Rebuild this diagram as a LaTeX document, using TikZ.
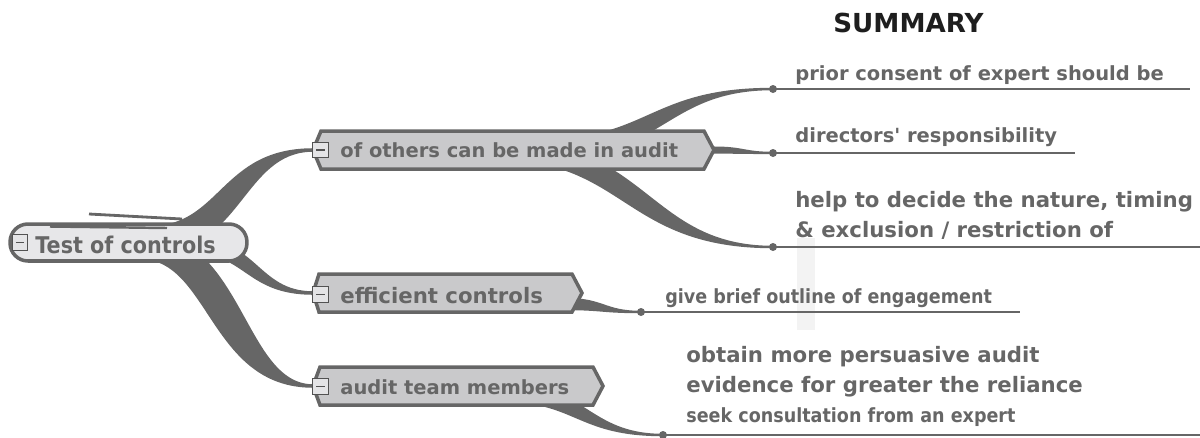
\documentclass[tikz,border=0pt]{standalone}
\usepackage{fontspec}
\setmainfont{DejaVu Sans}
\newfontfamily\narrowfont[FakeStretch=0.9]{DejaVu Sans}
\usetikzlibrary{calc,backgrounds}

\definecolor{ink}{HTML}{666666}
\definecolor{titleink}{HTML}{1E1E1E}
\definecolor{twigfill}{HTML}{C9C9CB}
\definecolor{rootfill}{HTML}{E7E7E9}
\definecolor{foldfill}{HTML}{E4E4E6}
\definecolor{haze}{HTML}{F3F3F3}

\tikzset{
  leaf/.style={text=ink, inner sep=0pt, anchor=base west, font=\bfseries\fontsize{11.1}{13}\selectfont},
  bigleaf/.style={leaf, font=\bfseries\fontsize{12.1}{14}\selectfont},
  thinleaf/.style={leaf, font=\narrowfont\bfseries\fontsize{11.1}{13}\selectfont},
  twig/.style={draw=ink, line width=2pt, fill=twigfill, line join=miter},
  fold/.style={draw=ink!80!black, fill=foldfill, line width=0.6pt, minimum size=0.31cm, inner sep=0pt},
  leafline/.style={draw=ink, line width=1.1pt},
  knot/.style={fill=ink},
  limbfill/.style={fill=ink}
}

% tapered branch: from, to, half width at start, half width at end
\newcommand{\limb}[4]{%
  \fill[limbfill] let \p1=(#1), \p2=(#2), \n1={0.12*(\y2-\y1)} in
    (\x1,\y1+#3) .. controls ({0.5*\x1+0.5*\x2-\n1},\y1+#3) and ({0.5*\x1+0.5*\x2-\n1},\y2+#4) .. (\x2,\y2+#4)
    -- (\x2,\y2-#4) .. controls ({0.5*\x1+0.5*\x2+\n1},\y2-#4) and ({0.5*\x1+0.5*\x2+\n1},\y1-#3) .. (\x1,\y1-#3) -- cycle;}
\newcommand{\foldmark}{\textcolor{ink!80!black}{\rule{0.17cm}{0.035cm}}}

\begin{document}
\begin{tikzpicture}[x=0.02cm, y=-0.02cm]
\useasboundingbox (0,0) rectangle (1200,437);
\fill[haze] (797,238) rectangle (815,330);

% title
\node[anchor=base west, inner sep=0pt, text=titleink, font=\bfseries\fontsize{14.9}{17}\selectfont] (title) at (833,32) {SUMMARY};

% points where branches meet
\coordinate (rootup) at (150,240);
\coordinate (rootmid) at (190,245);
\coordinate (rootlow) at (140,245);
\coordinate (t1w) at (313,150);
\coordinate (t1e) at (714,150);
\coordinate (t1a) at (540,150);
\coordinate (t1b) at (500,150);
\coordinate (t2w) at (313,293);
\coordinate (t2e) at (565,304);
\coordinate (t3w) at (313,386);
\coordinate (t3e) at (500,392);
\coordinate (d1) at (773,89);
\coordinate (d2) at (773,153);
\coordinate (d3) at (773,247);
\coordinate (d4) at (641,312);
\coordinate (d5) at (663,435);
\coordinate (e1) at (1190,89);
\coordinate (e2) at (1075,153);
\coordinate (e3) at (1200,247);
\coordinate (e4) at (1020,312);
\coordinate (e5) at (1200,435);

% root
\node[draw=ink, line width=2pt, fill=rootfill, rounded corners=0.36cm, minimum width=4.74cm, minimum height=0.74cm] (root) at (128.5,242.5) {};
\draw[ink, line width=1.6pt] (89,214) -- (182,219);
\draw[ink, line width=1.4pt] (50,226.5) -- (167,228);
\node[fold] (f0) at (20,242.5) {\foldmark};
\node[leaf, font=\narrowfont\bfseries\fontsize{13.1}{15}\selectfont] (rootlbl) at (35,253) {Test of controls};

% main topics
\draw[twig] (t1w) -- (321,131) -- (704,131) -- (t1e) -- (704,169) -- (321,169) -- cycle;
\node[fold] (f1) at (320.5,150) {\foldmark};
\node[leaf] (t1) at (340,157) {of others can be made in audit};

\draw[twig] (t2w) -- (319,274) -- (572,274) -- (582,293) -- (572,312) -- (319,312) -- cycle;
\node[fold] (f2) at (320.5,294.5) {\foldmark};
\node[bigleaf] (t2) at (340,303) {efficient controls};

\draw[twig] (t3w) -- (320,367) -- (593,367) -- (603,386) -- (593,405) -- (320,405) -- cycle;
\node[fold] (f3) at (320.5,386.5) {\foldmark};
\node[leaf] (t3) at (340,394) {audit team members};

% branches
\begin{scope}[on background layer]
\limb{rootup}{t1w}{8pt}{1pt}
\limb{rootmid}{t2w}{4.5pt}{1pt}
\limb{rootlow}{t3w}{8pt}{1pt}
\limb{t1a}{d1}{6pt}{0.7pt}
\limb{t1e}{d2}{2pt}{0.7pt}
\limb{t1b}{d3}{6pt}{0.7pt}
\limb{t2e}{d4}{3.5pt}{0.7pt}
\limb{t3e}{d5}{5.5pt}{0.7pt}
\end{scope}

% leaves
\foreach \d/\e in {d1/e1, d2/e2, d3/e3, d4/e4, d5/e5} {
  \draw[leafline] (\d) -- (\e);
  \fill[knot] (\d) circle (0.08cm);
}
\node[leaf] (l1) at (795,80) {prior consent of expert should be};
\node[leaf] (l2) at (795,142) {directors\textquotesingle\ responsibility};
\node[bigleaf] (l3a) at (795,207) {help to decide the nature, timing};
\node[bigleaf] (l3b) at (795,237) {\& exclusion / restriction of};
\node[thinleaf] (l4) at (665,303) {give brief outline of engagement};
\node[bigleaf] (l5a) at (686,362) {obtain more persuasive audit};
\node[bigleaf] (l5b) at (686,392) {evidence for greater the reliance};
\node[thinleaf] (l5c) at (686,422) {seek consultation from an expert};
\end{tikzpicture}
\end{document}
